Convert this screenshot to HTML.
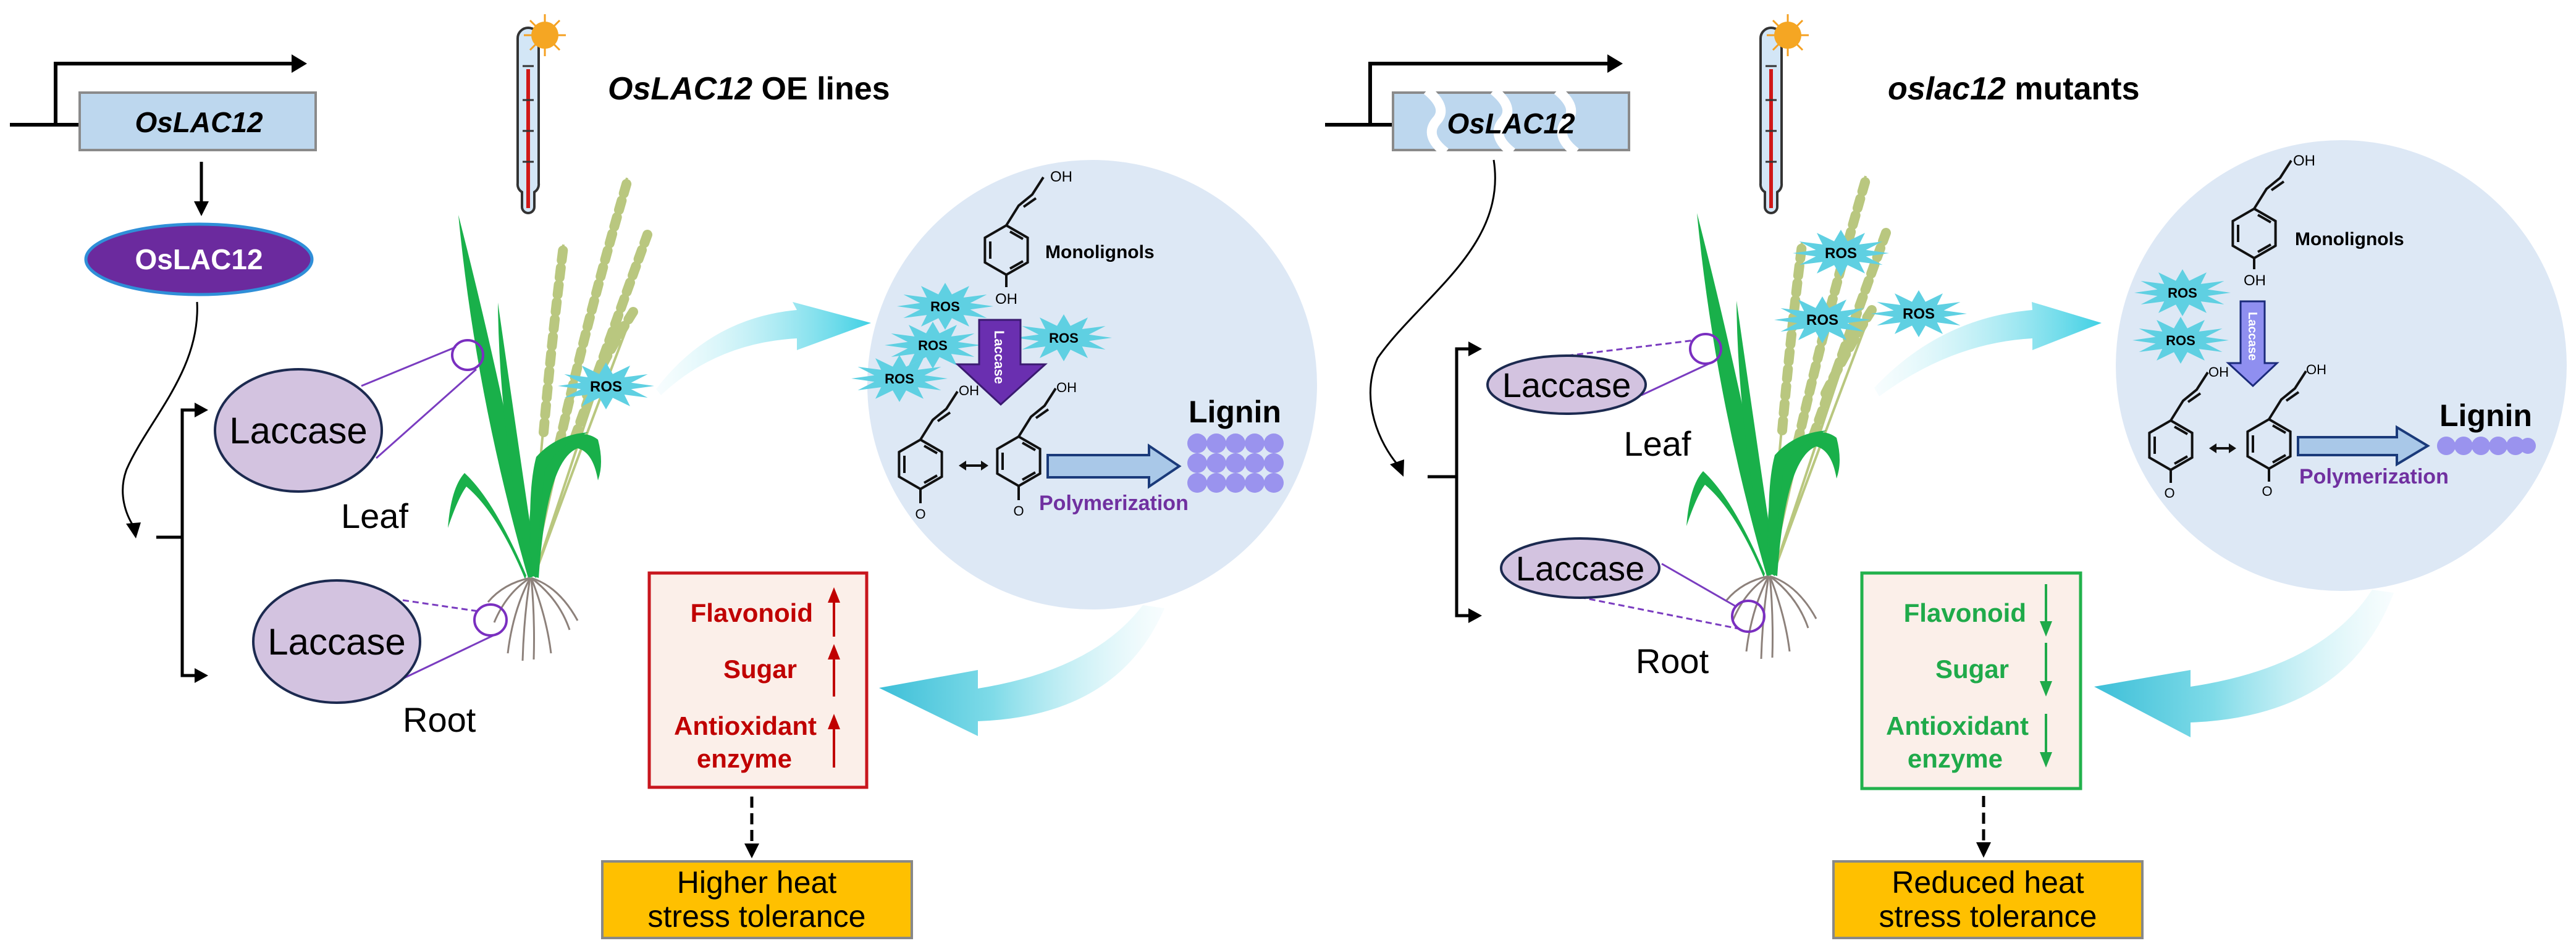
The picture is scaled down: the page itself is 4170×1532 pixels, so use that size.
<!DOCTYPE html>
<html><head><meta charset="utf-8"><style>
html,body{margin:0;padding:0;background:#fff;}
svg{display:block;}
text{font-family:"Liberation Sans",Arial,sans-serif;}
</style></head><body>
<svg width="4170" height="1532" viewBox="0 0 4170 1532" xmlns="http://www.w3.org/2000/svg">
<defs>
  <linearGradient id="cyR" x1="0" y1="0" x2="1" y2="0">
    <stop offset="0" stop-color="#e6f8fb" stop-opacity="0.3"/>
    <stop offset="1" stop-color="#3fd0e4"/>
  </linearGradient>
  <linearGradient id="cyL" x1="1" y1="0" x2="0" y2="0">
    <stop offset="0" stop-color="#e6f8fb" stop-opacity="0.3"/>
    <stop offset="0.6" stop-color="#7fdbe8"/>
    <stop offset="1" stop-color="#3dbfd8"/>
  </linearGradient>
  <polygon id="star" fill="#5fd0e2" points="78,0 40.6,5.2 67.5,19 29.7,14.1 39,32.9 10.9,19.3 0,38 -10.9,19.3 -39,32.9 -29.7,14.1 -67.5,19 -40.6,5.2 -78,0 -40.6,-5.2 -67.5,-19 -29.7,-14.1 -39,-32.9 -10.9,-19.3 0,-38 10.9,-19.3 39,-32.9 29.7,-14.1 67.5,-19 40.6,-5.2"/>
  <g id="ring" fill="none" stroke="#111" stroke-width="4">
    <polygon points="0,-40 34.6,-20 34.6,20 0,40 -34.6,20 -34.6,-20"/>
    <line x1="-26" y1="-14" x2="-26" y2="14"/>
    <line x1="6" y1="-30" x2="27" y2="-18"/>
    <line x1="6" y1="30" x2="27" y2="18"/>
  </g>
  <g id="chain" fill="none" stroke="#111" stroke-width="4">
    <polyline points="0,-40 20,-72 42,-90 60,-118"/>
    <line x1="28" y1="-70" x2="48" y2="-84"/>
  </g>
  <g id="plant">
    <g fill="none" stroke="#b9c77f" stroke-width="4">
      <path d="M862,930 Q930,620 1015,288"/>
      <path d="M866,930 Q960,650 1050,375"/>
      <path d="M866,930 Q950,700 1027,499"/>
      <path d="M860,930 Q880,650 912,396"/>
    </g>
    <g fill="none" stroke="#b9c77f" stroke-width="16" stroke-dasharray="16 12" stroke-linecap="round">
      <path d="M905,720 Q955,500 1015,295"/>
      <path d="M930,710 Q990,540 1048,380"/>
      <path d="M950,640 Q990,560 1025,505"/>
      <path d="M880,700 Q893,550 912,400"/>
    </g>
    <g fill="#19b04a">
      <path d="M855,936 Q770,640 742,348 Q812,620 870,930 Z"/>
      <path d="M858,936 Q808,700 806,490 Q836,700 870,930 Z"/>
      <path d="M852,932 Q800,810 752,766 Q730,790 725,855 Q742,805 755,788 Q805,830 850,938 Z"/>
      <path d="M860,932 Q845,780 895,722 Q940,690 968,712 Q978,750 968,778 Q960,732 935,726 Q885,745 872,936 Z"/>
      <path d="M862,932 Q852,800 868,740 Q900,704 952,700 Q900,724 882,762 Q872,850 868,936 Z"/>
    </g>
    <g fill="none" stroke="#8d817b" stroke-width="3">
      <path d="M858,936 Q820,960 800,1008"/>
      <path d="M858,936 Q830,990 822,1058"/>
      <path d="M858,936 Q848,1000 846,1070"/>
      <path d="M860,936 Q866,1000 864,1068"/>
      <path d="M860,936 Q885,1000 892,1058"/>
      <path d="M860,936 Q905,970 922,1020"/>
      <path d="M860,936 Q905,950 935,1005"/>
      <path d="M858,936 Q815,945 790,975"/>
    </g>
  </g>
  <g id="thermo">
    <path d="M0,0 a17,17 0 0 1 34,0 v235 a14,14 0 0 1 -7,14 v24 a10,10 0 0 1 -20,0 v-24 a14,14 0 0 1 -7,-14 Z" fill="#d3e6f6" stroke="#333" stroke-width="4"/>
    <rect x="14" y="50" width="6" height="225" fill="#d01818"/>
    <g stroke="#333" stroke-width="3"><line x1="8" y1="45" x2="26" y2="45"/><line x1="8" y1="100" x2="26" y2="100"/><line x1="8" y1="150" x2="26" y2="150"/><line x1="8" y1="200" x2="26" y2="200"/></g>
  </g>
  <g id="sun">
    <g stroke="#f5a020" stroke-width="3"><line x1="-34" y1="0" x2="34" y2="0"/><line x1="0" y1="-34" x2="0" y2="34"/><line x1="-24" y1="-24" x2="24" y2="24"/><line x1="-24" y1="24" x2="24" y2="-24"/></g>
    <circle r="22" fill="#f5a623"/>
  </g>
</defs>

<!-- ================= LEFT PANEL ================= -->
<g fill="none" stroke="#000" stroke-width="6">
  <polyline points="16,202 129,202"/>
  <polyline points="90,202 90,103 475,103"/>
</g>
<polygon points="472,88 497,103 472,118" fill="#000"/>
<rect x="129" y="150" width="382" height="93" fill="#bdd7ee" stroke="#8a8a8a" stroke-width="4"/>
<text x="322" y="214" font-size="46" font-weight="bold" font-style="italic" text-anchor="middle">OsLAC12</text>
<line x1="326" y1="262" x2="326" y2="330" stroke="#000" stroke-width="5"/>
<polygon points="314,326 338,326 326,350" fill="#000"/>
<ellipse cx="322" cy="420" rx="183" ry="57" fill="#6b2a9e" stroke="#2f8fd8" stroke-width="5"/>
<text x="322" y="436" font-size="46" font-weight="bold" fill="#fff" text-anchor="middle">OsLAC12</text>
<path d="M319,489 C325,600 240,680 205,760 C190,800 205,835 216,852" fill="none" stroke="#000" stroke-width="3"/>
<polygon points="204,848 228,846 220,872" fill="#000"/>
<g stroke="#000" stroke-width="5" fill="none"><line x1="253" y1="870" x2="295" y2="870"/><polyline points="318,664 295,664 295,1094 318,1094"/></g>
<polygon points="315,652 337,664 315,676" fill="#000"/><polygon points="315,1082 337,1094 315,1106" fill="#000"/>

<g stroke="#7a3cc0" stroke-width="3" fill="none">
  <line x1="585" y1="625" x2="738" y2="562"/><line x1="609" y1="742" x2="771" y2="598"/>
  <line x1="652" y1="972" x2="775" y2="990" stroke-dasharray="10 6"/><line x1="652" y1="1099" x2="805" y2="1026"/>
</g>
<ellipse cx="483" cy="697" rx="135" ry="99" fill="#d3c3e0" stroke="#1c2a50" stroke-width="4"/>
<text x="483" y="718" font-size="60" text-anchor="middle">Laccase</text>
<ellipse cx="545" cy="1039" rx="135" ry="99" fill="#d3c3e0" stroke="#1c2a50" stroke-width="4"/>
<text x="545" y="1060" font-size="60" text-anchor="middle">Laccase</text>
<text x="552" y="855" font-size="56">Leaf</text>
<text x="652" y="1185" font-size="56">Root</text>

<use href="#thermo" x="838" y="62"/>
<use href="#sun" x="882" y="57"/>
<text x="984" y="161" font-size="52" font-weight="bold"><tspan font-style="italic">OsLAC12</tspan> OE lines</text>

<use href="#plant"/>
<ellipse cx="757" cy="575" rx="25" ry="24" fill="none" stroke="#7a2fc0" stroke-width="4"/>
<ellipse cx="794" cy="1004" rx="26" ry="25" fill="none" stroke="#7a2fc0" stroke-width="4"/>
<use href="#star" x="981" y="625"/>
<text x="981" y="634" font-size="24" font-weight="bold" text-anchor="middle">ROS</text>

<!-- circle -->
<circle cx="1768" cy="623" r="364" fill="#dde8f5"/>
<path d="M1062,630 Q1150,515 1290,502 L1283,489 L1410,523 L1290,567 L1290,548 Q1160,555 1070,640 Z" fill="url(#cyR)"/>

<use href="#ring" x="1629" y="405"/>
<use href="#chain" x="1629" y="405"/>
<line x1="1629" y1="445" x2="1629" y2="465" stroke="#111" stroke-width="4"/>
<text x="1629" y="492" font-size="24" text-anchor="middle">OH</text>
<text x="1700" y="294" font-size="24">OH</text>
<text x="1692" y="418" font-size="30" font-weight="bold">Monolignols</text>

<use href="#star" x="1530" y="496"/><text x="1530" y="504" font-size="22" font-weight="bold" text-anchor="middle">ROS</text>
<use href="#star" x="1510" y="559"/><text x="1510" y="567" font-size="22" font-weight="bold" text-anchor="middle">ROS</text>
<use href="#star" x="1456" y="613"/><text x="1456" y="621" font-size="22" font-weight="bold" text-anchor="middle">ROS</text>
<use href="#star" x="1722" y="547"/><text x="1722" y="555" font-size="22" font-weight="bold" text-anchor="middle">ROS</text>

<polygon points="1585,518 1652,518 1652,590 1692,590 1620,655 1550,590 1585,590" fill="#6a2fb0" stroke="#3a1a70" stroke-width="3"/>
<text transform="translate(1610,535) rotate(90)" font-size="22" font-weight="bold" fill="#fff">Laccase</text>

<use href="#ring" x="1490" y="752"/><use href="#chain" x="1490" y="752"/>
<use href="#ring" x="1649" y="747"/><use href="#chain" x="1649" y="747"/>
<text x="1552" y="640" font-size="22">OH</text><text x="1710" y="635" font-size="22">OH</text>
<line x1="1490" y1="792" x2="1490" y2="815" stroke="#111" stroke-width="4"/>
<text x="1490" y="840" font-size="22" text-anchor="middle">O</text>
<line x1="1649" y1="787" x2="1649" y2="810" stroke="#111" stroke-width="4"/>
<text x="1649" y="835" font-size="22" text-anchor="middle">O</text>
<g stroke="#111" stroke-width="4"><line x1="1558" y1="754" x2="1594" y2="754"/></g>
<polygon points="1552,754 1564,746 1564,762" fill="#111"/><polygon points="1600,754 1588,746 1588,762" fill="#111"/>
<polygon points="1696,737 1860,737 1860,722 1909,755 1860,788 1860,773 1696,773" fill="#a9c8e8" stroke="#1a3a7a" stroke-width="4"/>
<text x="1682" y="826" font-size="34" font-weight="bold" fill="#7030a0">Polymerization</text>
<text x="1924" y="684" font-size="50" font-weight="bold">Lignin</text>
<g fill="#9a93ee">
  <circle cx="1938" cy="718" r="16"/><circle cx="1969" cy="718" r="16"/><circle cx="2000" cy="718" r="16"/><circle cx="2031" cy="718" r="16"/><circle cx="2062" cy="718" r="16"/>
  <circle cx="1938" cy="750" r="16"/><circle cx="1969" cy="750" r="16"/><circle cx="2000" cy="750" r="16"/><circle cx="2031" cy="750" r="16"/><circle cx="2062" cy="750" r="16"/>
  <circle cx="1938" cy="782" r="16"/><circle cx="1969" cy="782" r="16"/><circle cx="2000" cy="782" r="16"/><circle cx="2031" cy="782" r="16"/><circle cx="2062" cy="782" r="16"/>
</g>

<path d="M1583,1115 Q1770,1085 1850,980 L1885,985 Q1810,1160 1583,1168 L1583,1192 L1423,1114 L1583,1085 Z" fill="url(#cyL)"/>

<rect x="1051" y="928" width="352" height="347" fill="#fbefe9" stroke="#c8161d" stroke-width="5"/>
<g fill="#c00000" font-size="42" font-weight="bold" text-anchor="end">
  <text x="1316" y="1007">Flavonoid</text>
  <text x="1290" y="1098">Sugar</text>
  <text x="1322" y="1190">Antioxidant</text>
  <text x="1282" y="1243">enzyme</text>
</g>
<g stroke="#c00000" stroke-width="4"><line x1="1350" y1="970" x2="1350" y2="1031"/><line x1="1350" y1="1062" x2="1350" y2="1128"/><line x1="1350" y1="1175" x2="1350" y2="1243"/></g>
<g fill="#c00000"><polygon points="1340,976 1360,976 1350,951"/><polygon points="1340,1068 1360,1068 1350,1043"/><polygon points="1340,1181 1360,1181 1350,1156"/></g>
<line x1="1217" y1="1290" x2="1217" y2="1368" stroke="#000" stroke-width="5" stroke-dasharray="18 9"/>
<polygon points="1205,1366 1229,1366 1217,1390" fill="#000"/>
<rect x="975" y="1395" width="501" height="124" fill="#ffc000" stroke="#888" stroke-width="4"/>
<text x="1225" y="1446" font-size="50" text-anchor="middle">Higher heat</text>
<text x="1225" y="1501" font-size="50" text-anchor="middle">stress tolerance</text>

<!-- ================= RIGHT PANEL ================= -->
<g fill="none" stroke="#000" stroke-width="6">
  <polyline points="2145,202 2255,202"/>
  <polyline points="2218,202 2218,103 2605,103"/>
</g>
<polygon points="2602,88 2627,103 2602,118" fill="#000"/>
<rect x="2255" y="150" width="382" height="93" fill="#bdd7ee" stroke="#8a8a8a" stroke-width="4"/>
<g fill="none" stroke="#fff" stroke-width="16">
  <path d="M2310,146 Q2345,175 2325,196 Q2305,220 2340,247"/>
  <path d="M2418,146 Q2453,175 2433,196 Q2413,220 2448,247"/>
  <path d="M2521,146 Q2556,175 2536,196 Q2516,220 2551,247"/>
</g>
<text x="2446" y="216" font-size="46" font-weight="bold" font-style="italic" text-anchor="middle">OsLAC12</text>
<path d="M2418,259 C2440,400 2300,480 2230,580 C2200,650 2235,720 2262,752" fill="none" stroke="#000" stroke-width="3"/>
<polygon points="2250,752 2273,744 2272,772" fill="#000"/>
<g stroke="#000" stroke-width="5" fill="none"><line x1="2311" y1="772" x2="2358" y2="772"/><polyline points="2380,565 2358,565 2358,997 2380,997"/></g>
<polygon points="2377,553 2399,565 2377,577" fill="#000"/><polygon points="2377,985 2399,997 2377,1009" fill="#000"/>

<g stroke="#7a3cc0" stroke-width="3" fill="none">
  <line x1="2537" y1="576" x2="2743" y2="551" stroke-dasharray="10 6"/><line x1="2657" y1="640" x2="2777" y2="584"/>
  <line x1="2690" y1="913" x2="2810" y2="982"/><line x1="2557" y1="967" x2="2814" y2="1018" stroke-dasharray="10 6"/>
</g>
<ellipse cx="2536" cy="623" rx="128" ry="47" fill="#d3c3e0" stroke="#1c2a50" stroke-width="4"/>
<text x="2536" y="643" font-size="56" text-anchor="middle">Laccase</text>
<ellipse cx="2558" cy="920" rx="128" ry="48" fill="#d3c3e0" stroke="#1c2a50" stroke-width="4"/>
<text x="2558" y="940" font-size="56" text-anchor="middle">Laccase</text>
<text x="2683" y="738" font-size="56" text-anchor="middle">Leaf</text>
<text x="2707" y="1090" font-size="56" text-anchor="middle">Root</text>

<use href="#thermo" x="2850" y="62"/>
<use href="#sun" x="2894" y="57"/>
<text x="3056" y="161" font-size="52" font-weight="bold"><tspan font-style="italic">oslac12</tspan> mutants</text>

<use href="#plant" transform="translate(2005,-3)"/>
<ellipse cx="2761" cy="565" rx="25" ry="24" fill="none" stroke="#7a2fc0" stroke-width="4"/>
<ellipse cx="2830" cy="998" rx="26" ry="25" fill="none" stroke="#7a2fc0" stroke-width="4"/>
<use href="#star" x="2980" y="410"/><text x="2980" y="418" font-size="24" font-weight="bold" text-anchor="middle">ROS</text>
<use href="#star" x="2950" y="518"/><text x="2950" y="526" font-size="24" font-weight="bold" text-anchor="middle">ROS</text>
<use href="#star" x="3106" y="508"/><text x="3106" y="516" font-size="24" font-weight="bold" text-anchor="middle">ROS</text>

<circle cx="3790" cy="592" r="365" fill="#dde8f5"/>
<path d="M3034,628 Q3140,515 3290,502 L3289,489 L3402,523 L3290,567 L3290,548 Q3160,555 3042,642 Z" fill="url(#cyR)"/>

<use href="#ring" x="3649" y="378"/>
<use href="#chain" x="3649" y="378"/>
<line x1="3649" y1="418" x2="3649" y2="436" stroke="#111" stroke-width="4"/>
<text x="3650" y="462" font-size="24" text-anchor="middle">OH</text>
<text x="3712" y="268" font-size="24">OH</text>
<text x="3715" y="397" font-size="30" font-weight="bold">Monolignols</text>
<use href="#star" x="3533" y="474"/><text x="3533" y="482" font-size="22" font-weight="bold" text-anchor="middle">ROS</text>
<use href="#star" x="3530" y="551"/><text x="3530" y="559" font-size="22" font-weight="bold" text-anchor="middle">ROS</text>
<polygon points="3627,488 3666,488 3666,588 3686,588 3647,625 3607,588 3627,588" fill="#8f8ff0" stroke="#1a2a7a" stroke-width="3"/>
<text transform="translate(3640,505) rotate(90)" font-size="20" font-weight="bold" fill="#fff">Laccase</text>

<use href="#ring" x="3514" y="721"/><use href="#chain" x="3514" y="721"/>
<use href="#ring" x="3673" y="719"/><use href="#chain" x="3673" y="719"/>
<text x="3575" y="610" font-size="22">OH</text><text x="3733" y="606" font-size="22">OH</text>
<line x1="3514" y1="761" x2="3514" y2="782" stroke="#111" stroke-width="4"/>
<text x="3512" y="806" font-size="22" text-anchor="middle">O</text>
<line x1="3673" y1="759" x2="3673" y2="780" stroke="#111" stroke-width="4"/>
<text x="3670" y="803" font-size="22" text-anchor="middle">O</text>
<line x1="3582" y1="726" x2="3614" y2="726" stroke="#111" stroke-width="4"/>
<polygon points="3576,726 3588,718 3588,734" fill="#111"/><polygon points="3620,726 3608,718 3608,734" fill="#111"/>
<polygon points="3720,708 3880,708 3880,692 3930,722 3880,752 3880,737 3720,737" fill="#a9c8e8" stroke="#1a3a7a" stroke-width="4"/>
<text x="3722" y="783" font-size="34" font-weight="bold" fill="#7030a0">Polymerization</text>
<text x="3949" y="690" font-size="50" font-weight="bold">Lignin</text>
<g fill="#9a93ee">
  <circle cx="3960" cy="722" r="15"/><circle cx="3988" cy="722" r="15"/><circle cx="4016" cy="722" r="15"/><circle cx="4044" cy="722" r="15"/><circle cx="4072" cy="722" r="15"/><circle cx="4092" cy="722" r="13"/>
</g>

<path d="M3546,1112 Q3760,1080 3840,955 L3875,960 Q3800,1160 3546,1170 L3546,1194 L3390,1112 L3546,1085 Z" fill="url(#cyL)"/>

<rect x="3014" y="928" width="354" height="349" fill="#fbefe9" stroke="#22b14c" stroke-width="5"/>
<g fill="#1faa4a" font-size="42" font-weight="bold" text-anchor="end">
  <text x="3280" y="1007">Flavonoid</text>
  <text x="3252" y="1098">Sugar</text>
  <text x="3284" y="1190">Antioxidant</text>
  <text x="3242" y="1243">enzyme</text>
</g>
<g stroke="#1faa4a" stroke-width="4"><line x1="3312" y1="946" x2="3312" y2="1010"/><line x1="3312" y1="1041" x2="3312" y2="1106"/><line x1="3312" y1="1156" x2="3312" y2="1222"/></g>
<g fill="#1faa4a"><polygon points="3302,1006 3322,1006 3312,1031"/><polygon points="3302,1103 3322,1103 3312,1128"/><polygon points="3302,1218 3322,1218 3312,1243"/></g>
<line x1="3211" y1="1289" x2="3211" y2="1366" stroke="#000" stroke-width="5" stroke-dasharray="18 9"/>
<polygon points="3199,1364 3223,1364 3211,1389" fill="#000"/>
<rect x="2968" y="1395" width="500" height="124" fill="#ffc000" stroke="#888" stroke-width="4"/>
<text x="3218" y="1446" font-size="50" text-anchor="middle">Reduced heat</text>
<text x="3218" y="1501" font-size="50" text-anchor="middle">stress tolerance</text>
</svg>
</body></html>
